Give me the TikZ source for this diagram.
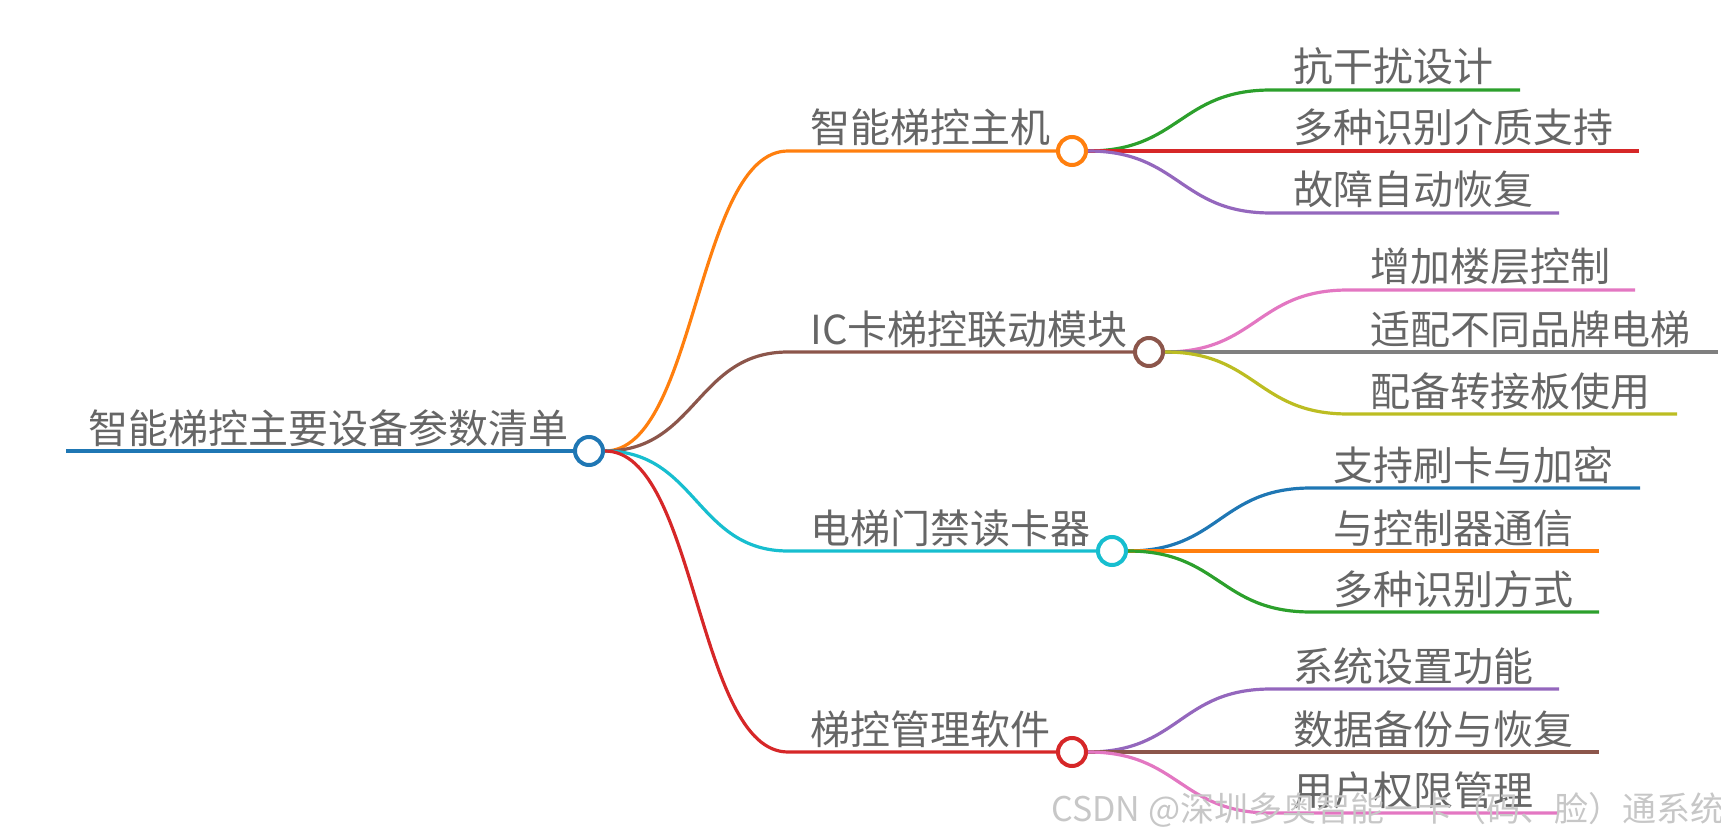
\documentclass[tikz,border=0pt]{standalone}
\usepackage{fontspec}
\setmainfont{Noto Sans CJK SC}
\usetikzlibrary{calc}
\definecolor{mmblue}{HTML}{1F77B4}
\definecolor{mmorange}{HTML}{FF7F0E}
\definecolor{mmgreen}{HTML}{2CA02C}
\definecolor{mmred}{HTML}{D62728}
\definecolor{mmpurple}{HTML}{9467BD}
\definecolor{mmbrown}{HTML}{8C564B}
\definecolor{mmpink}{HTML}{E377C2}
\definecolor{mmgray}{HTML}{7F7F7F}
\definecolor{mmolive}{HTML}{BCBD22}
\definecolor{mmcyan}{HTML}{17BECF}
\definecolor{txtgray}{HTML}{666666}
\tikzset{
  link/.style={to path={.. controls ($(\tikztostart)!0.5!(\tikztostart -| \tikztotarget)$) and ($(\tikztotarget)!0.5!(\tikztotarget -| \tikztostart)$) .. (\tikztotarget)}},
  knot/.style={circle,draw=#1,fill=white,line width=2pt,minimum size=14pt,inner sep=0pt},
  lbl/.style={anchor=base west,inner sep=0pt,text=txtgray,font=\fontsize{20pt}{24pt}\selectfont},
  edge1/.style={line width=1.6pt,#1},
}

\begin{document}
\begin{tikzpicture}[x=0.5pt,y=-0.5pt]
        \useasboundingbox (0,0) rectangle (1721,840);

        % Корінь і головні вузли
        \coordinate (s0) at (66,451);
        \node[knot=mmblue] (r) at (589,451) {};
        \coordinate (a1) at (788,151);
        \coordinate (a2) at (788,352);
        \coordinate (a3) at (788,551);
        \coordinate (a4) at (788,752);
        \node[knot=mmorange] (c1) at (1072,151) {};
        \node[knot=mmbrown] (c2) at (1149,352) {};
        \node[knot=mmcyan] (c3) at (1112,551) {};
        \node[knot=mmred] (c4) at (1072,752) {};

        % Листки: початок і кінець лінії
        \coordinate (b11) at (1271,90);  \coordinate (e11) at (1520,90);
        \coordinate (e12) at (1639,151);
        \coordinate (b13) at (1271,213); \coordinate (e13) at (1559,213);
        \coordinate (b21) at (1348,290); \coordinate (e21) at (1635,290);
        \coordinate (e22) at (1718,352);
        \coordinate (b23) at (1348,414); \coordinate (e23) at (1677,414);
        \coordinate (b31) at (1311,488); \coordinate (e31) at (1640,488);
        \coordinate (e32) at (1599,551);
        \coordinate (b33) at (1311,612); \coordinate (e33) at (1599,612);
        \coordinate (b41) at (1271,689); \coordinate (e41) at (1559,689);
        \coordinate (e42) at (1599,752);
        \coordinate (b43) at (1271,813); \coordinate (e43) at (1559,813);

        % Лінії першого рівня
        \draw[line width=2.4pt,mmblue] (s0) -- (r.west);
        \draw[edge1=mmorange] (r.east) to[link] (a1) -- (c1.west);
        \draw[edge1=mmbrown] (r.east) to[link] (a2) -- (c2.west);
        \draw[edge1=mmcyan] (r.east) to[link] (a3) -- (c3.west);
        \draw[edge1=mmred] (r.east) to[link] (a4) -- (c4.west);

        % Лінії другого рівня
        \draw[edge1=mmgreen] (c1.east) to[link] (b11) -- (e11);
        \draw[edge1=mmred] (c1.east) -- (e12);
        \draw[edge1=mmpurple] (c1.east) to[link] (b13) -- (e13);
        \draw[edge1=mmpink] (c2.east) to[link] (b21) -- (e21);
        \draw[edge1=mmgray] (c2.east) -- (e22);
        \draw[edge1=mmolive] (c2.east) to[link] (b23) -- (e23);
        \draw[edge1=mmblue] (c3.east) to[link] (b31) -- (e31);
        \draw[edge1=mmorange] (c3.east) -- (e32);
        \draw[edge1=mmgreen] (c3.east) to[link] (b33) -- (e33);
        \draw[edge1=mmpurple] (c4.east) to[link] (b41) -- (e41);
        \draw[edge1=mmbrown] (c4.east) -- (e42);
        \draw[edge1=mmpink] (c4.east) to[link] (b43) -- (e43);

        % Підписи
        \node[lbl] (t0) at ([shift={(22,-8)}]s0) {智能梯控主要设备参数清单};
        \node[lbl] (t1) at ([shift={(22,-8)}]a1) {智能梯控主机};
        \node[lbl] (t2) at ([shift={(22,-8)}]a2) {IC卡梯控联动模块};
        \node[lbl] (t3) at ([shift={(22,-8)}]a3) {电梯门禁读卡器};
        \node[lbl] (t4) at ([shift={(22,-8)}]a4) {梯控管理软件};
        \node[lbl] (t11) at ([shift={(22,-8)}]b11) {抗干扰设计};
        \node[lbl] (t12) at (1293,143) {多种识别介质支持};
        \node[lbl] (t13) at ([shift={(22,-8)}]b13) {故障自动恢复};
        \node[lbl] (t21) at ([shift={(22,-8)}]b21) {增加楼层控制};
        \node[lbl] (t22) at (1370,344) {适配不同品牌电梯};
        \node[lbl] (t23) at ([shift={(22,-8)}]b23) {配备转接板使用};
        \node[lbl] (t31) at ([shift={(22,-8)}]b31) {支持刷卡与加密};
        \node[lbl] (t32) at (1333,543) {与控制器通信};
        \node[lbl] (t33) at ([shift={(22,-8)}]b33) {多种识别方式};
        \node[lbl] (t41) at ([shift={(22,-8)}]b41) {系统设置功能};
        \node[lbl] (t42) at (1293,744) {数据备份与恢复};
        \node[lbl] (t43) at ([shift={(22,-8)}]b43) {用户权限管理};

        % Водяний знак
        \node[anchor=west,inner sep=0pt,text=black!22,font=\fontsize{17pt}{20pt}\selectfont] (wm) at (1051,810) {CSDN @深圳多奥智能一卡（码、脸）通系统};
    \end{tikzpicture}
\end{document}
